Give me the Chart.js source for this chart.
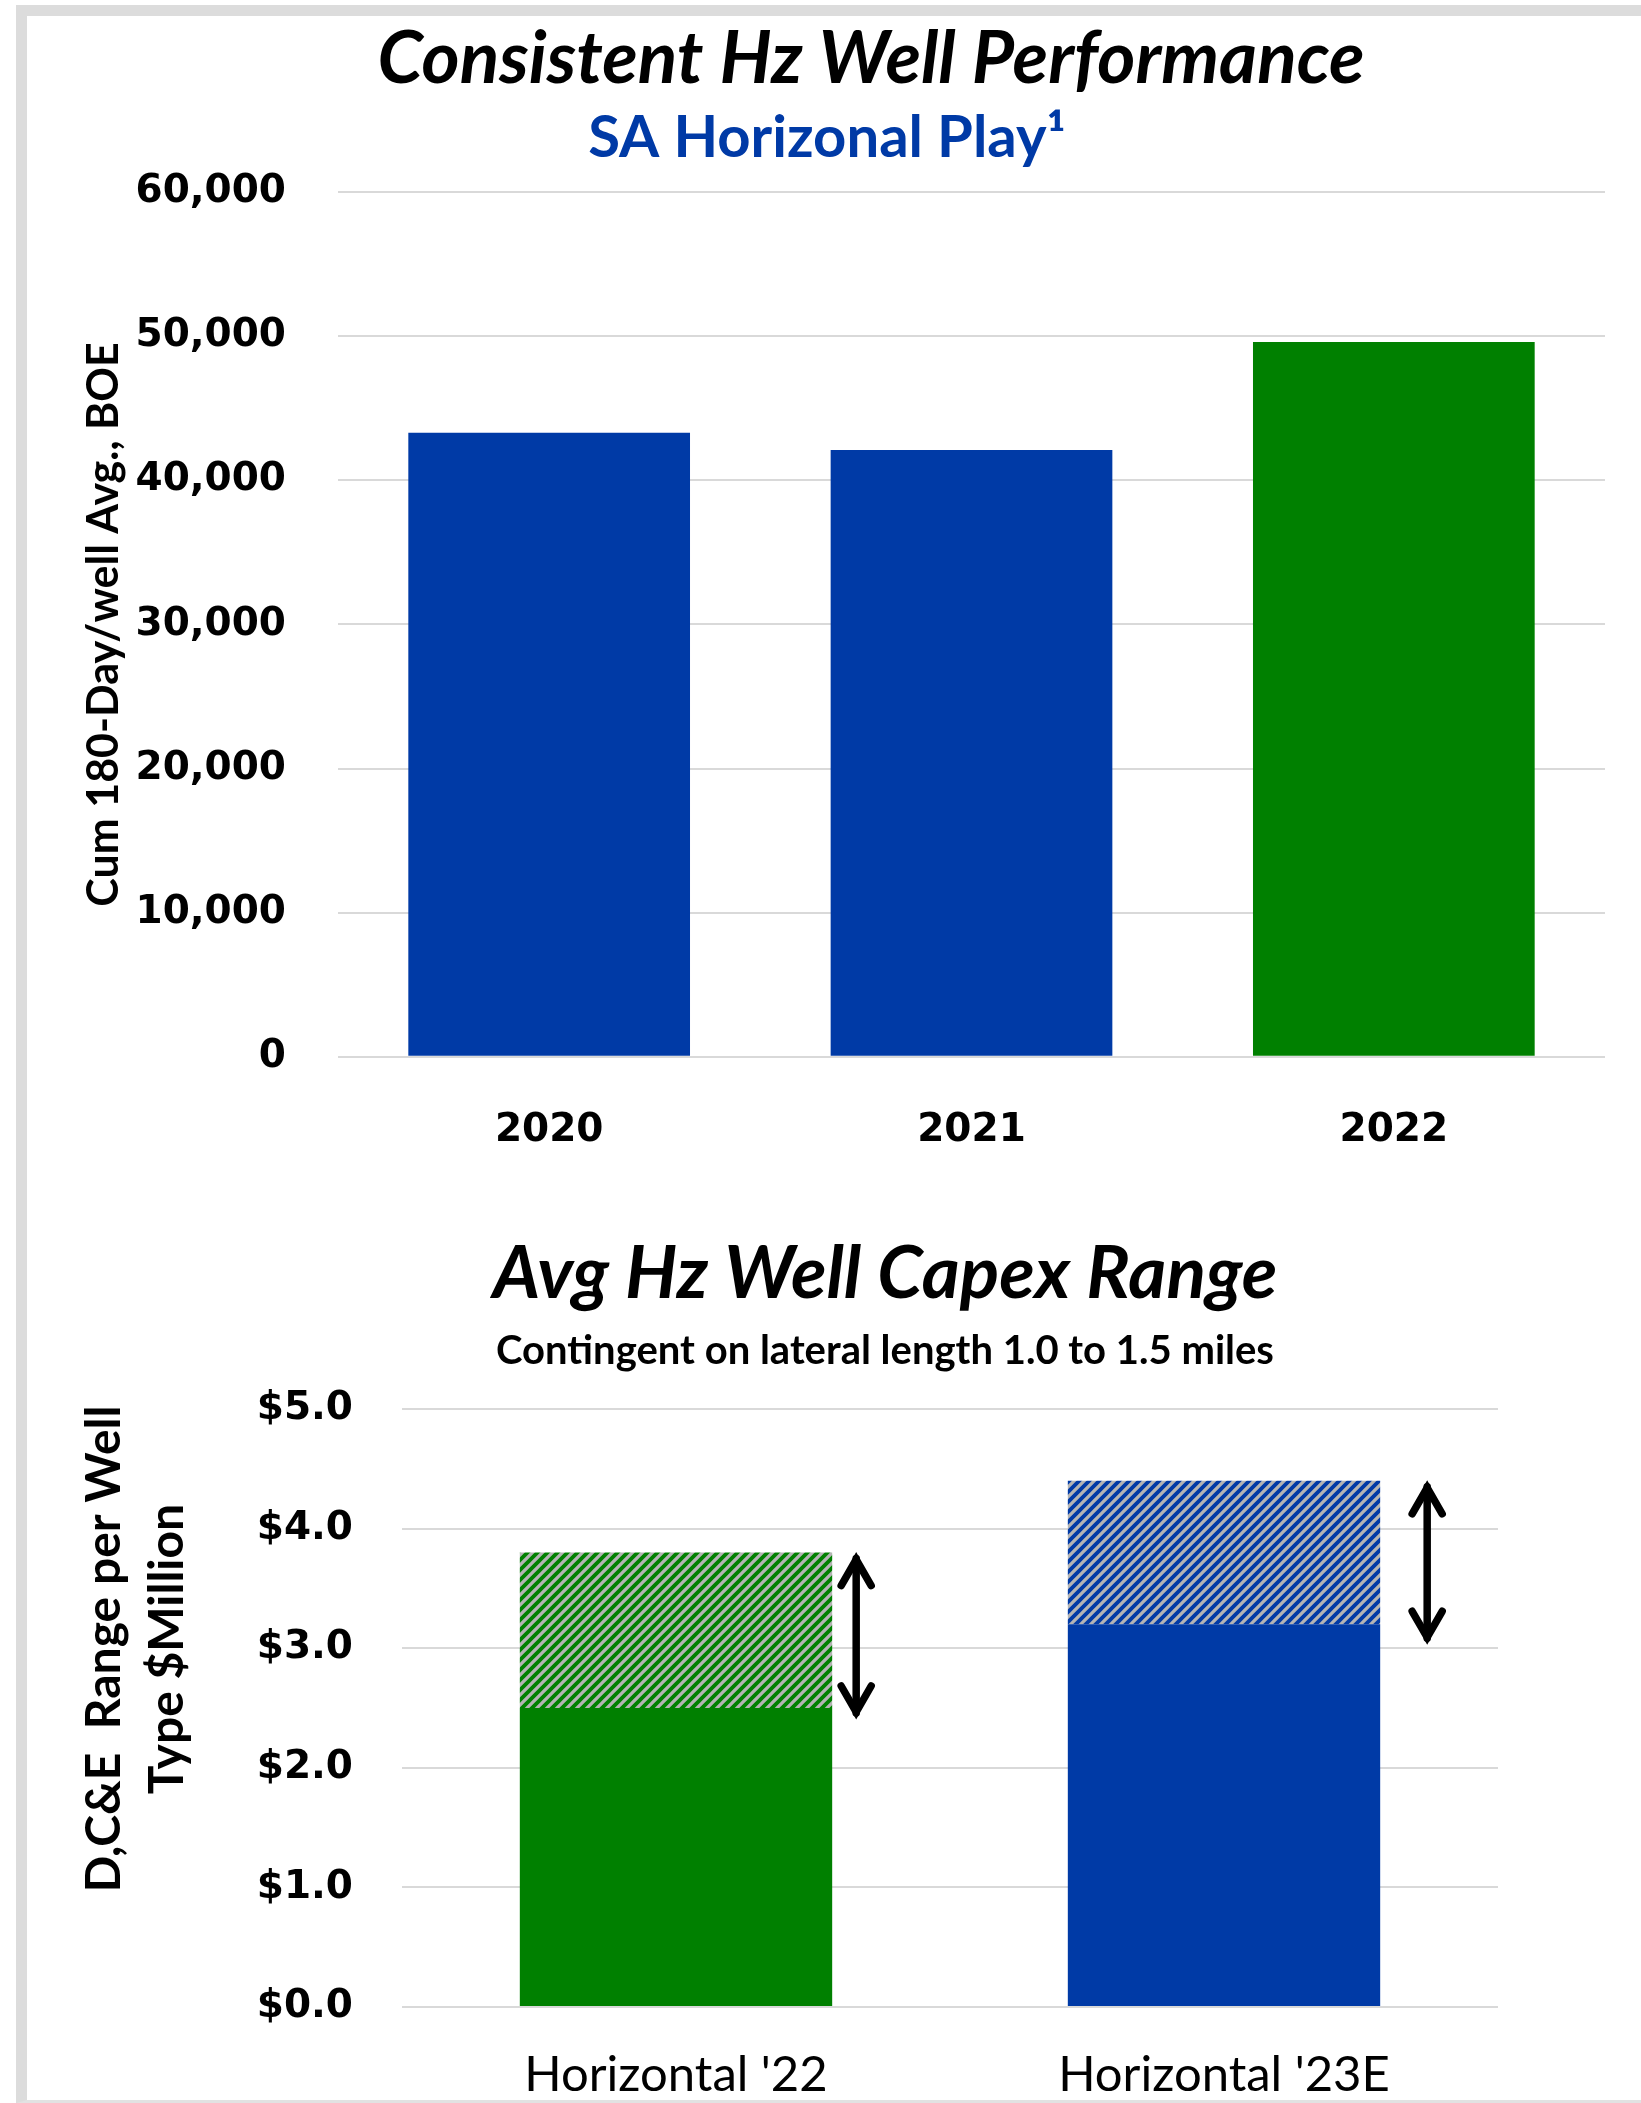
<!DOCTYPE html>
<html>
<head>
<meta charset="utf-8">
<script src="https://cdn.jsdelivr.net/npm/chart.js@4/dist/chart.umd.min.js"></script>
<style>
  html, body { margin: 0; padding: 0; background: #fff; width: 1641px; height: 2103px; overflow: hidden; }
  #frame { position: absolute; left: 16px; top: 5px; width: 1700px; height: 2098px; box-sizing: border-box;
           border-left: 11px solid #dcdcdc; border-top: 11px solid #dcdcdc; border-bottom: 3px solid #e2e2e2; }
  canvas { position: absolute; left: 0; }
  #chartTop { top: 0; }
  #chartBottom { top: 1190px; }
</style>
</head>
<body>
<div id="frame"></div>
<canvas id="chartTop" width="1641" height="1240"></canvas>
<canvas id="chartBottom" width="1641" height="973"></canvas>
<script>
// -- THE DATA --

const perf_years = ["2020", "2021", "2022"];
const perf_boe = [43300, 42100, 49600];

const capex_wells = ["Horizontal '22", "Horizontal '23E"];
const capex_low = [2.5, 3.2];
const capex_high = [3.8, 4.4];

// -- COLOURS / FONTS --

const BLUE = '#003aa6';
const GREEN = '#008000';
const GRID = '#d9d9d9';
const perf_colors = [BLUE, BLUE, GREEN];
const capex_colors = [GREEN, BLUE];

const tickFont = { family: 'DejaVu Sans', size: 39, weight: 'bold' };
const titleFont = { family: 'Lato', size: 73, weight: 'bold', style: 'italic' };

Chart.defaults.color = '#000';
Chart.defaults.devicePixelRatio = 1;

// hatched fill for the range part of the capex bars
function hatch(color) {
  const c = document.createElement('canvas');
  c.width = 10; c.height = 10;
  const g = c.getContext('2d');
  g.fillStyle = '#b4b4b4';
  g.fillRect(0, 0, 10, 10);
  g.strokeStyle = color;
  g.lineWidth = 3.8;
  g.beginPath();
  g.moveTo(-2, 12); g.lineTo(12, -2);
  g.moveTo(-2, 2); g.lineTo(2, -2);
  g.moveTo(8, 12); g.lineTo(12, 8);
  g.stroke();
  return g.createPattern(c, 'repeat');
}

// moves title / subtitle sideways, they are not centred on the canvas in the original
const headShift = {
  id: 'headShift',
  afterLayout(chart, args, opts) {
    const p = chart.options.plugins;
    chart.boxes.forEach(b => {
      const t = b.options && b.options.text;
      let dx = 0;
      if (t === p.title.text) dx = opts.title;
      else if (t === p.subtitle.text) dx = opts.subtitle;
      b.left += dx;
      b.right += dx;
    });
  }
};

// -- TOP CHART --

new Chart('chartTop', {
  type: 'bar',
  data: {
    labels: perf_years,
    datasets: [{
      data: perf_boe,
      backgroundColor: perf_colors,
      barPercentage: 0.667,
      categoryPercentage: 1
    }]
  },
  plugins: [headShift],
  options: {
    responsive: false,
    animation: false,
    layout: { padding: { left: 0, right: 36, top: 0, bottom: 34.5 } },
    plugins: {
      legend: { display: false },
      tooltip: { enabled: false },
      title: {
        display: true,
        text: 'Consistent Hz Well Performance',
        font: titleFont,
        color: '#000',
        padding: { top: 16, bottom: 0 }
      },
      subtitle: {
        display: true,
        text: 'SA Horizonal Play\u00b9',
        font: { family: 'Lato', size: 58, weight: 'bold' },
        color: BLUE,
        padding: { top: 0, bottom: 19 }
      },
      headShift: { title: 68.5, subtitle: 24.5 }
    },
    scales: {
      x: {
        grid: { display: false, drawTicks: false },
        border: { display: false },
        ticks: { font: tickFont, color: '#000', padding: 51 }
      },
      y: {
        min: 0,
        max: 60000,
        grid: { color: GRID, lineWidth: 2, drawTicks: false },
        border: { display: false },
        ticks: {
          stepSize: 10000,
          font: tickFont,
          color: '#000',
          padding: 52,
          callback: v => v.toLocaleString('en-US')
        },
        title: {
          display: true,
          text: 'Cum 180-Day/well Avg., BOE',
          font: { family: 'Lato', size: 43, weight: 'bold' },
          color: '#000',
          padding: { top: 78 }
        },
        afterFit(s) { s.width = 338; }
      }
    }
  }
});

// -- BOTTOM CHART --

// arrow next to each capex bar, spanning low..high
const rangeArrows = {
  id: 'rangeArrows',
  afterDatasetsDraw(chart, args, opts) {
    const ctx = chart.ctx;
    const y = chart.scales.y;
    const bars = chart.getDatasetMeta(0).data;
    ctx.save();
    ctx.strokeStyle = '#000';
    ctx.lineWidth = 7.5;
    ctx.lineCap = 'round';
    ctx.lineJoin = 'miter';
    bars.forEach((bar, i) => {
      const x = bar.x + bar.width / 2 + opts.gap[i];
      const top = y.getPixelForValue(capex_high[i]) + 2;
      const bot = y.getPixelForValue(capex_low[i]) + opts.drop[i];
      ctx.beginPath();
      ctx.moveTo(x, top + 4); ctx.lineTo(x, bot - 4);
      ctx.stroke();
      ctx.beginPath();
      ctx.moveTo(x - 15, top + 31); ctx.lineTo(x, top + 5); ctx.lineTo(x + 15, top + 31);
      ctx.stroke();
      ctx.beginPath();
      ctx.moveTo(x - 15, bot - 31); ctx.lineTo(x, bot - 5); ctx.lineTo(x + 15, bot - 31);
      ctx.stroke();
    });
    ctx.restore();
  }
};

// two-line rotated y title, placed a bit above the axis centre
const capexYTitle = {
  id: 'capexYTitle',
  afterDraw(chart, args, opts) {
    const ctx = chart.ctx;
    const a = chart.chartArea;
    const cy = (a.top + a.bottom) / 2 + opts.shiftY;
    ctx.save();
    ctx.fillStyle = '#000';
    ctx.font = 'bold 48px Lato';
    ctx.textAlign = 'center';
    ctx.textBaseline = 'middle';
    opts.lines.forEach((t, i) => {
      ctx.save();
      ctx.translate(a.left + opts.x[i], cy);
      ctx.rotate(-Math.PI / 2);
      ctx.fillText(t, 0, 0);
      ctx.restore();
    });
    ctx.restore();
  }
};

new Chart('chartBottom', {
  type: 'bar',
  data: {
    labels: capex_wells,
    datasets: [{
      data: capex_low,
      backgroundColor: capex_colors,
      grouped: false,
      barPercentage: 0.57,
      categoryPercentage: 1
    }, {
      data: capex_low.map((lo, i) => [lo, capex_high[i]]),
      backgroundColor: capex_colors.map(hatch),
      grouped: false,
      barPercentage: 0.57,
      categoryPercentage: 1
    }]
  },
  plugins: [headShift, rangeArrows, capexYTitle],
  options: {
    responsive: false,
    animation: false,
    layout: { padding: { left: 0, right: 143, top: 0, bottom: 20 } },
    plugins: {
      legend: { display: false },
      tooltip: { enabled: false },
      title: {
        display: true,
        text: 'Avg Hz Well Capex Range',
        font: titleFont,
        color: '#000',
        padding: { top: 40.2, bottom: 0 }
      },
      subtitle: {
        display: true,
        text: 'Contingent on lateral length 1.0 to 1.5 miles',
        font: { family: 'Lato', size: 40, weight: 'bold' },
        color: '#000',
        padding: { top: 9.2, bottom: 34 }
      },
      headShift: { title: 136, subtitle: 136 },
      rangeArrows: { gap: [24, 47], drop: [9, 18] },
      capexYTitle: {
        lines: ['D,C&E  Range per Well', 'Type $Million'],
        x: [-297, -234],
        shiftY: -59
      }
    },
    scales: {
      x: {
        grid: { display: false, drawTicks: false },
        border: { display: false },
        ticks: { font: { family: 'Lato', size: 49 }, color: '#000', padding: 38.6 }
      },
      y: {
        min: 0,
        max: 5,
        grid: { color: GRID, lineWidth: 2, drawTicks: false },
        border: { display: false },
        ticks: {
          stepSize: 1,
          font: tickFont,
          color: '#000',
          padding: 49,
          callback: v => '$' + v.toFixed(1)
        },
        afterFit(s) { s.width = 402; }
      }
    }
  }
});
</script>
</body>
</html>
